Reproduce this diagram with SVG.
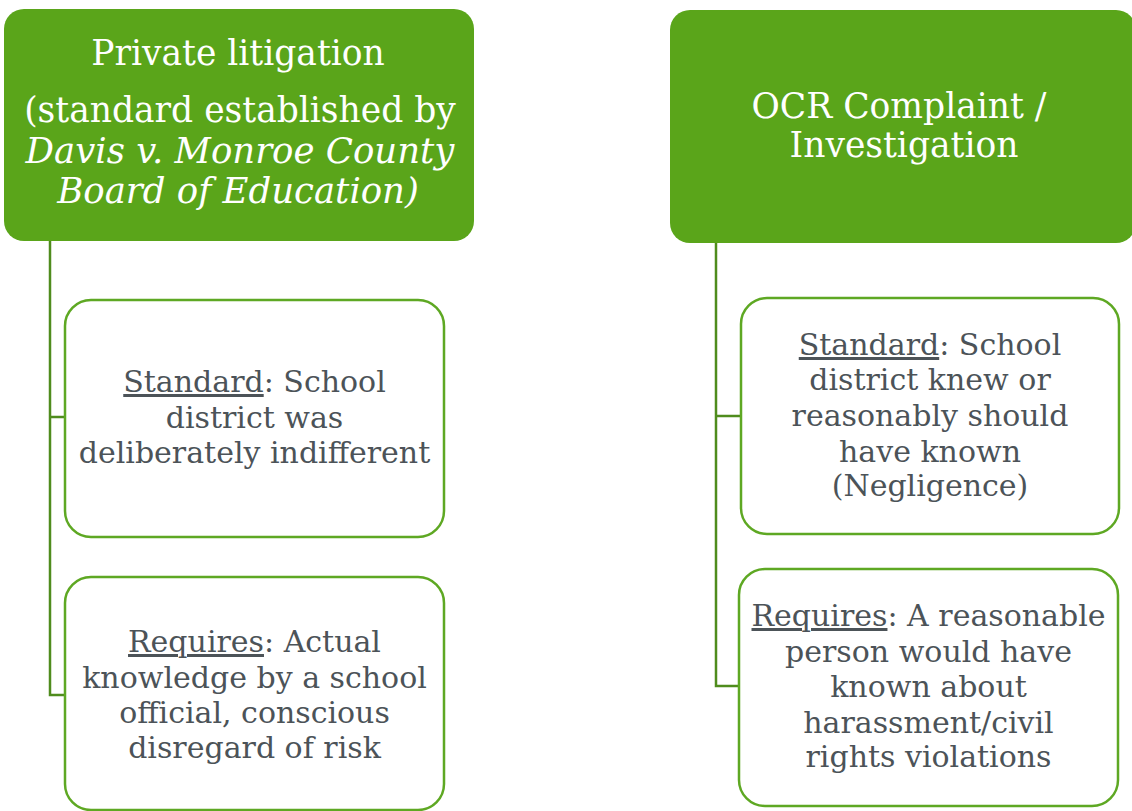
<svg xmlns="http://www.w3.org/2000/svg" width="1132" height="811" viewBox="0 0 1132 811">
  <style>
    .head { fill: #5aa51a; }
    .card { fill: #ffffff; stroke: #5ea823; stroke-width: 2.5; }
    .link { fill: none; stroke: #4f8c1d; stroke-width: 2.5; }
    .ht { font-family: "DejaVu Serif", serif; font-size: 34.5px; fill: #ffffff; text-anchor: middle; }
    .it { font-style: italic; font-size: 35.5px; }
    .bt { font-family: "DejaVu Serif", serif; font-size: 30px; fill: #4c5358; text-anchor: middle; }
    .u { text-decoration: underline; }
  </style>

  <rect width="1132" height="811" fill="#ffffff"/>

  <!-- tree connectors -->
  <g id="connectors">
    <path class="link" d="M50,241 V695 H66 M50,417 H66"/>
    <path class="link" d="M716,243 V686 H740 M716,416 H742"/>
  </g>

  <!-- left column -->
  <g id="private-litigation">
    <rect class="head" x="4" y="9" width="470" height="232" rx="20"/>
    <text class="ht" x="238" y="65">Private litigation</text>
    <text class="ht" x="240" y="122">(standard established by</text>
    <text class="ht it" x="240" y="163">Davis v. Monroe County</text>
    <text class="ht it" x="238" y="203">Board of Education)</text>
  </g>

  <g id="private-standard">
    <rect class="card" x="65" y="300" width="379" height="237" rx="26"/>
    <text class="bt" x="254.5" y="392"><tspan class="u">Standard</tspan>: School</text>
    <text class="bt" x="254.5" y="428">district was</text>
    <text class="bt" x="254.5" y="463">deliberately indifferent</text>
  </g>

  <g id="private-requires">
    <rect class="card" x="65" y="577" width="379" height="233" rx="26"/>
    <text class="bt" x="254.5" y="652"><tspan class="u">Requires</tspan>: Actual</text>
    <text class="bt" x="254.5" y="688">knowledge by a school</text>
    <text class="bt" x="254.5" y="723">official, conscious</text>
    <text class="bt" x="254.5" y="758">disregard of risk</text>
  </g>

  <!-- right column -->
  <g id="ocr-complaint">
    <rect class="head" x="670" y="10" width="466" height="233" rx="20"/>
    <text class="ht" x="899" y="118">OCR Complaint /</text>
    <text class="ht" x="904" y="157">Investigation</text>
  </g>

  <g id="ocr-standard">
    <rect class="card" x="741" y="298" width="378" height="236" rx="26"/>
    <text class="bt" x="930" y="355"><tspan class="u">Standard</tspan>: School</text>
    <text class="bt" x="930" y="390">district knew or</text>
    <text class="bt" x="930" y="426">reasonably should</text>
    <text class="bt" x="930" y="462">have known</text>
    <text class="bt" x="930" y="496">(Negligence)</text>
  </g>

  <g id="ocr-requires">
    <rect class="card" x="739" y="569" width="379" height="237" rx="26"/>
    <text class="bt" x="928.5" y="626"><tspan class="u">Requires</tspan>: A reasonable</text>
    <text class="bt" x="928.5" y="662">person would have</text>
    <text class="bt" x="928.5" y="697">known about</text>
    <text class="bt" x="928.5" y="733">harassment/civil</text>
    <text class="bt" x="928.5" y="767">rights violations</text>
  </g>
</svg>
